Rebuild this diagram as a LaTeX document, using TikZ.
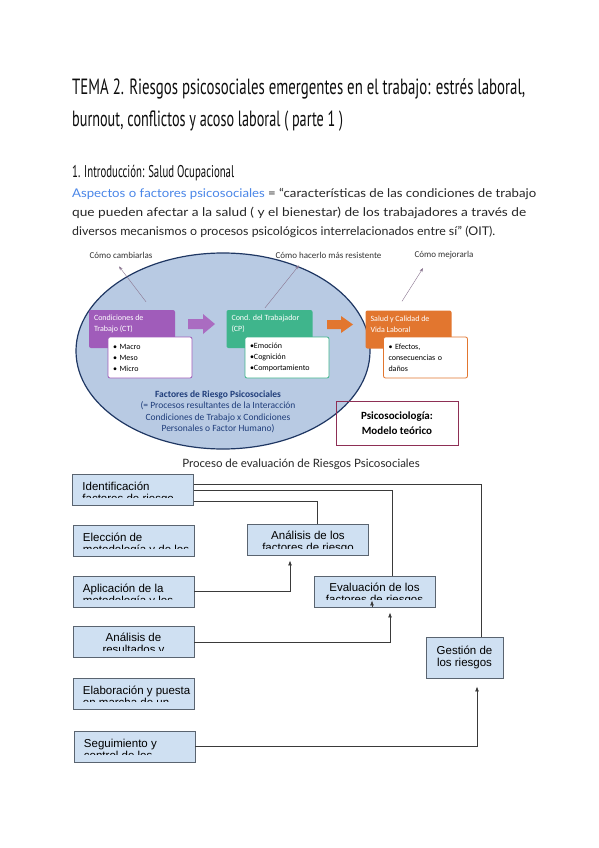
\documentclass[tikz,border=0pt]{standalone}
\usepackage{fontspec}
\setmainfont{Lato}
\newfontfamily\headfont{PT Sans}
\newfontfamily\slidefont{Carlito}
\newfontfamily\drawfont{Liberation Sans}
\usetikzlibrary{arrows.meta,shapes.geometric}

\definecolor{linkblue}{HTML}{4A86E8}
\definecolor{ctpurple}{HTML}{A05CBA}
\definecolor{cpgreen}{HTML}{3FB58C}
\definecolor{svorange}{HTML}{E2762F}
\definecolor{ellfill}{HTML}{B8CAE3}
\definecolor{ellline}{HTML}{1F3763}
\definecolor{elltext}{HTML}{1F3D7A}
\definecolor{psicoline}{HTML}{8E2F55}
\definecolor{hintline}{HTML}{8A7590}
\definecolor{procfill}{HTML}{CFE0F2}
\definecolor{procline}{HTML}{5A6470}
\definecolor{linkline}{HTML}{3A3A3A}

\begin{document}
\begin{tikzpicture}[x=1pt, y=-1pt,
        titlenode/.style={anchor=base west, inner sep=0pt, text=black!95, font=\headfont\fontsize{22}{22}\selectfont},
        secnode/.style={anchor=base west, inner sep=0pt, text=black!95, font=\headfont\fontsize{17}{17}\selectfont},
        bodynode/.style={anchor=base west, inner sep=0pt, text=black!85, font=\fontsize{12}{14}\selectfont},
        hintnode/.style={inner sep=0pt, text=black!80, font=\slidefont\fontsize{9}{10}\selectfont},
        hintarrow/.style={-{Stealth[length=4pt,width=3pt]}, hintline, thin},
        colbox/.style={rounded corners=2pt, minimum width=86pt, minimum height=38pt, inner sep=0pt},
        collabel/.style={anchor=north west, align=left, inner sep=0pt, xshift=5pt, yshift=-5pt, text=white, font=\slidefont\fontsize{8}{11}\selectfont},
        listbox/.style={draw, fill=white, rounded corners=2pt, line width=0.8pt, minimum width=84pt, minimum height=41pt, text width=74pt, align=left, inner sep=0pt, font=\slidefont\fontsize{8}{11}\selectfont},
        procbox/.style={draw=procline, fill=procfill, line width=0.9pt, minimum width=121pt, minimum height=31pt, inner sep=0pt},
        cuttext/.style={inner sep=0pt, minimum width=0pt, minimum height=0pt, font=\drawfont\fontsize{11.5}{12}\selectfont},
        cutleft/.style 2 args={path picture={
            \clip (path picture bounding box.north west) rectangle ([yshift=8pt]path picture bounding box.south east);
            \node[cuttext, anchor=base west, align=left] (#1) at ([xshift=9.5pt,yshift=-28pt]path picture bounding box.north west) {#2};}},
        cutmid/.style 2 args={path picture={
            \clip (path picture bounding box.north west) rectangle ([yshift=7.5pt]path picture bounding box.south east);
            \node[cuttext, anchor=base, align=center] (#1) at ([yshift=-27pt]path picture bounding box.north) {#2};}},
        link/.style={linkline, line width=0.8pt},
        linkarrow/.style={link, -{Latex[length=5pt,width=4pt]}},
        ]
        \useasboundingbox[fill=white] (0,0) rectangle (599,848);

        % heading and definition
        \node[titlenode] (tit1) at (72,95) {\resizebox{453pt}{\height}{TEMA 2. Riesgos psicosociales emergentes en el trabajo: estrés laboral,}};
        \node[titlenode] (tit2) at (72,126) {\resizebox{271pt}{\height}{burnout, conflictos y acoso laboral ( parte 1 )}};
        \node[secnode] (sec1) at (72,177) {\resizebox{162pt}{\height}{1. Introducción: Salud Ocupacional}};
        \node[bodynode] (def1) at (72,197) {\resizebox{464pt}{\height}{\textcolor{linkblue}{Aspectos o factores psicosociales} = “características de las condiciones de trabajo}};
        \node[bodynode] (def2) at (72,216) {\resizebox{454pt}{\height}{que pueden afectar a la salud ( y el bienestar) de los trabajadores a través de}};
        \node[bodynode] (def3) at (72,235) {\resizebox{423pt}{\height}{diversos mecanismos o procesos psicológicos interrelacionados entre sí” (OIT).}};

        % theoretical model
        \node[ellipse, draw=ellline, fill=ellfill, line width=1.2pt, minimum width=294pt, minimum height=196pt, inner sep=0pt] (frpell) at (223,351) {};

        \node[hintnode] (cambiar) at (121,255) {Cómo cambiarlas};
        \node[hintnode] (resist) at (328.5,255) {Cómo hacerlo más resistente};
        \node[hintnode] (mejorar) at (444,255) {Cómo mejorarla};

        \node[colbox, fill=ctpurple, label={[collabel]north west:Condiciones de\\Trabajo (CT)}] (ct) at (132,329) {};
        \node[listbox, draw=ctpurple] (ctlist) at (150,357.5) {• Macro\\• Meso\\• Micro};
        \node[colbox, fill=cpgreen, label={[collabel]north west:Cond. del Trabajador\\(CP)}] (cp) at (269.5,329) {};
        \node[listbox, draw=cpgreen] (cplist) at (287,357.5) {•Emoción\\•Cognición\\•Comportamiento};
        \node[colbox, fill=svorange, label={[collabel]north west:Salud y Calidad de\\Vida Laboral}] (sv) at (408.5,329.5) {};
        \node[listbox, draw=svorange] (svlist) at (425.5,357.5) {• Efectos,\\consecuencias o\\daños};

        \fill[ctpurple!90] (188,319) -- (203,319) -- (203,314) -- (215,324) -- (203,334) -- (203,329) -- (188,329) -- cycle;
        \fill[svorange] (327,320) -- (341,320) -- (341,316) -- (353,324.5) -- (341,333) -- (341,329) -- (327,329) -- cycle;

        \draw[hintarrow] ([xshift=14pt,yshift=8pt]ct.north) -- ([xshift=-2pt,yshift=-8pt]cambiar.south);
        \draw[hintarrow] ([xshift=-4.5pt,yshift=2pt]cp.north) -- ([xshift=-29.5pt,yshift=-7pt]resist.south);
        \draw[hintarrow] ([xshift=-6.5pt,yshift=9pt]sv.north) -- ([xshift=-21pt,yshift=-9pt]mejorar.south);

        \node[inner sep=0pt, align=center, text=elltext, font=\slidefont\fontsize{9.5}{11.5}\selectfont] (frp) at (218,412) {\textbf{Factores de Riesgo Psicosociales}\\(= Procesos resultantes de la Interacción\\Condiciones de Trabajo x Condiciones\\Personales o Factor Humano)};

        \node[draw=psicoline, line width=0.8pt, minimum width=122pt, minimum height=44pt, align=center, font=\slidefont\bfseries\fontsize{11}{15}\selectfont] (psico) at (397,423) {Psicosociología:\\Modelo teórico};

        % evaluation process
        \node[inner sep=0pt, text=black!85, font=\fontsize{11.5}{13}\selectfont] (proc) at (301,464) {Proceso de evaluación de Riesgos Psicosociales};

        \node[procbox, cutleft={identtxt}{Identificación\\factores de riesgo}] (ident) at (133,489.5) {};
        \node[procbox, cutleft={electxt}{Elección de\\metodología y de los}] (elec) at (133.5,541) {};
        \node[procbox, cutmid={analtxt}{Análisis de los\\factores de riesgo}] (anal) at (308,540) {};
        \node[procbox, cutleft={aplictxt}{Aplicación de la\\metodología y los}] (aplic) at (133.5,591.5) {};
        \node[procbox, cutmid={evaltxt}{Evaluación de los\\factores de riesgos}] (eval) at (374.5,591.5) {};
        \node[procbox, cutmid={analrtxt}{Análisis de\\resultados y}] (analr) at (133.5,642) {};
        \node[procbox, cutleft={elabtxt}{Elaboración y puesta\\en marcha de un}] (elab) at (133.5,694) {};
        \node[procbox, cutleft={seguitxt}{Seguimiento y\\control de los}] (segui) at (134.5,746.5) {};
        \node[procbox, minimum width=77pt, minimum height=41pt, align=center, font=\drawfont\fontsize{11.5}{12.5}\selectfont] (gest) at (464.5,657.5) {Gestión de\\los riesgos};

        \draw[link] ([yshift=5.5pt]ident.east) -| ([xshift=16.5pt]gest.north);
        \draw[link] ([yshift=-0.5pt]ident.east) -| ([xshift=17.5pt]eval.north);
        \draw[link] ([yshift=-11.5pt]ident.east) -| ([xshift=9pt]anal.north);
        \draw[linkarrow] (aplic.east) -| ([xshift=-18pt,yshift=-4.5pt]anal.south);
        \draw[linkarrow] (analr.east) -| ([xshift=15.5pt,yshift=-5pt]eval.south);
        \draw[linkarrow] ([xshift=-2.5pt]eval.south) -- ([xshift=-2.5pt,yshift=7pt]eval.south);
        \draw[linkarrow] (segui.east) -| ([xshift=12.5pt,yshift=-8pt]gest.south);
\end{tikzpicture}
\end{document}
